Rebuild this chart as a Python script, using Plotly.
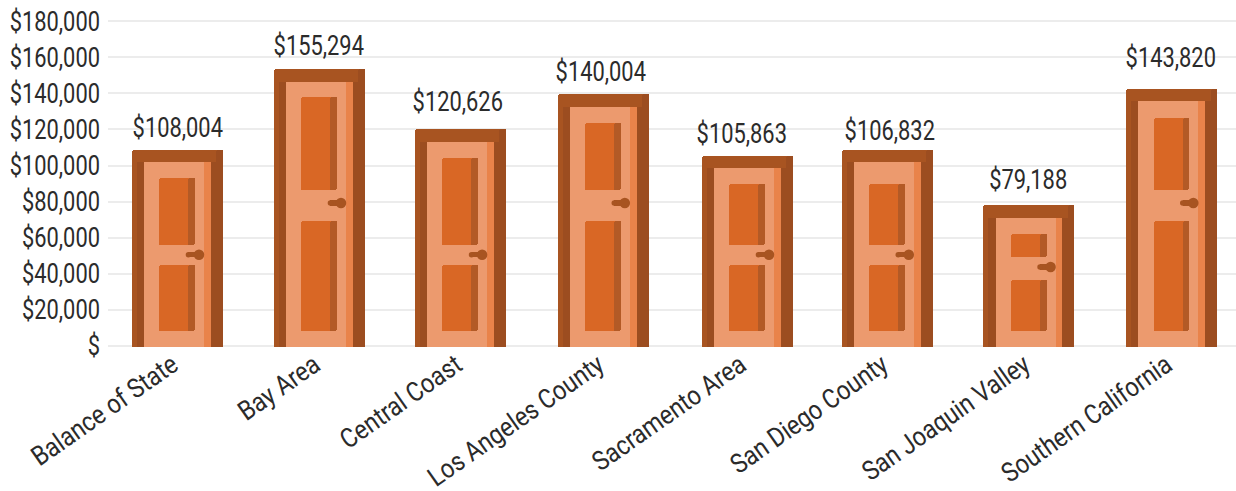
import plotly.graph_objects as go

# ---- data ----
categories = ["Balance of State", "Bay Area", "Central Coast", "Los Angeles County",
              "Sacramento Area", "San Diego County", "San Joaquin Valley", "Southern California"]
values = [108004, 155294, 120626, 140004, 105863, 106832, 79188, 143820]
door_heights = [108600, 153400, 120000, 139400, 105400, 108800, 78100, 142400]
y_ticks = [0, 20000, 40000, 60000, 80000, 100000, 120000, 140000, 160000, 180000]
y_tick_labels = ["$", "$20,000", "$40,000", "$60,000", "$80,000", "$100,000",
                 "$120,000", "$140,000", "$160,000", "$180,000"]

# ---- style / door geometry (pixels converted to axis units) ----
FONT = "Roboto"
TXT = "#2b2b2b"
FRAME, JAMB, LEAF, STRIPE, PANEL, SHADE = "#A85421", "#9C4D20", "#EC9A6E", "#E9834A", "#D96725", "#B35A26"
PY = 20000 / 36.1
PX = 1 / 142
W, H = 1236, 491
LEFT, ZERO_PX = 108, 346
x0_px = 177.2
door_shift = [0, 0, -0.9, -0.2, 2, -0.2, -0.4, 0.3]
label_shift = [0.3, -0.2, -3.2, -2.2, -3.2, 2.8, -1.7, 0]
label_gap = [22, 23, 27, 22, 21.7, 19, 25, 30.7]
panel_gap = [28.3, 28, 29, 29, 28.3, 34.3, 29, 29]
tiers = [{"min": 130000, "up": 156, "low": 125, "knob": 143},
         {"min": 90000, "up": 101, "low": 81, "knob": 91.3},
         {"min": 0, "up": 89, "low": 66, "knob": 79}]


def tier(h):
    return next(t for t in tiers if h >= t["min"])


xs = list(range(len(categories)))
fig = go.Figure()


def piece(x1, x2, bases, tops, color, radius=0):
    fig.add_trace(go.Bar(
        x=xs, y=[t - b for b, t in zip(bases, tops)], base=bases,
        width=(x2 - x1) * PX, offset=[(x1 + s) * PX for s in door_shift],
        marker=dict(color=color, line=dict(width=0), cornerradius=radius),
        hoverinfo="skip", showlegend=False))


bottom = [-1.3 * PY] * len(xs)
under_top = [h - 12.5 * PY for h in door_heights]
panel_low = [15 * PY] * len(xs)
low_top = [tier(h)["low"] * PY for h in door_heights]
up_bot = [tier(h)["up"] * PY for h in door_heights]
up_top = [h - g * PY for h, g in zip(door_heights, panel_gap)]
knob_y = [tier(h)["knob"] * PY for h in door_heights]

piece(-45.5, 45.5, bottom, door_heights, FRAME, 2)
piece(-40.5, -33.2, bottom, under_top, JAMB)
piece(33.5, 45.5, bottom, under_top, JAMB)
piece(39, 45.5, bottom, door_heights, JAMB, 2)
piece(-33.2, 33.5, bottom, under_top, LEAF)
piece(26.8, 33.5, bottom, under_top, STRIPE)
for b, t in ((panel_low, low_top), (up_bot, up_top)):
    piece(-17.9, 17.8, b, t, PANEL, 2)
    piece(11.1, 17.8, b, t, SHADE, 2)
piece(11.2, 21.8, [k - 2.7 * PY for k in knob_y], [k + 2.7 * PY for k in knob_y], FRAME)

fig.add_trace(go.Scatter(x=[i + (21.8 + s) * PX for i, s in zip(xs, door_shift)], y=knob_y, mode="markers",
                         marker=dict(color=FRAME, size=10.5, line=dict(width=0)),
                         hoverinfo="skip", showlegend=False))
fig.add_trace(go.Scatter(x=[i + (11.2 + s) * PX for i, s in zip(xs, door_shift)], y=knob_y, mode="markers",
                         marker=dict(color=FRAME, size=5.4, line=dict(width=0)),
                         hoverinfo="skip", showlegend=False))

for i, (h, v, g, s) in enumerate(zip(door_heights, values, label_gap, label_shift)):
    fig.add_annotation(x=i, y=h, text=f"${v:,}", showarrow=False, yanchor="middle",
                       xshift=s, yshift=g, font=dict(family=FONT, size=27, color=TXT))

fig.update_layout(
    width=W, height=H, barmode="overlay", bargap=0, plot_bgcolor="white", paper_bgcolor="white",
    margin=dict(l=LEFT, r=0, t=17, b=H - ZERO_PX - 4),
    font=dict(family=FONT, size=27, color=TXT),
    xaxis=dict(range=[-(x0_px - LEFT) / 142, (W - x0_px) / 142], tickmode="array", tickvals=xs,
               ticktext=categories, tickangle=-35, showgrid=False, zeroline=False, showline=False,
               ticks="", automargin=False, ticklabelshift=-5, ticklabelstandoff=-7,
               tickfont=dict(family=FONT, size=27, color=TXT)),
    yaxis=dict(range=[-4 * PY, (ZERO_PX - 17) * PY], tickmode="array", tickvals=y_ticks,
               ticktext=y_tick_labels, showgrid=True, gridcolor="#ececec", gridwidth=1.8,
               zeroline=False, showline=False, ticks="", automargin=False, ticklabelstandoff=7,
               tickfont=dict(family=FONT, size=27, color=TXT)),
)
# Narrow the real text horizontally so it reads like the reference's condensed face.
post = """
document.body.style.margin='0';
function squeeze(sel, k){
  document.querySelectorAll(sel).forEach(function(t){
    t.setAttribute('textLength', t.getComputedTextLength()*k);
    t.setAttribute('lengthAdjust','spacingAndGlyphs');
  });
}
squeeze('.ytick text, .annotation-text', 0.81);
squeeze('.xtick text', 0.87);
"""
fig.write_html("out.html", post_script=post, config={"displayModeBar": False})
